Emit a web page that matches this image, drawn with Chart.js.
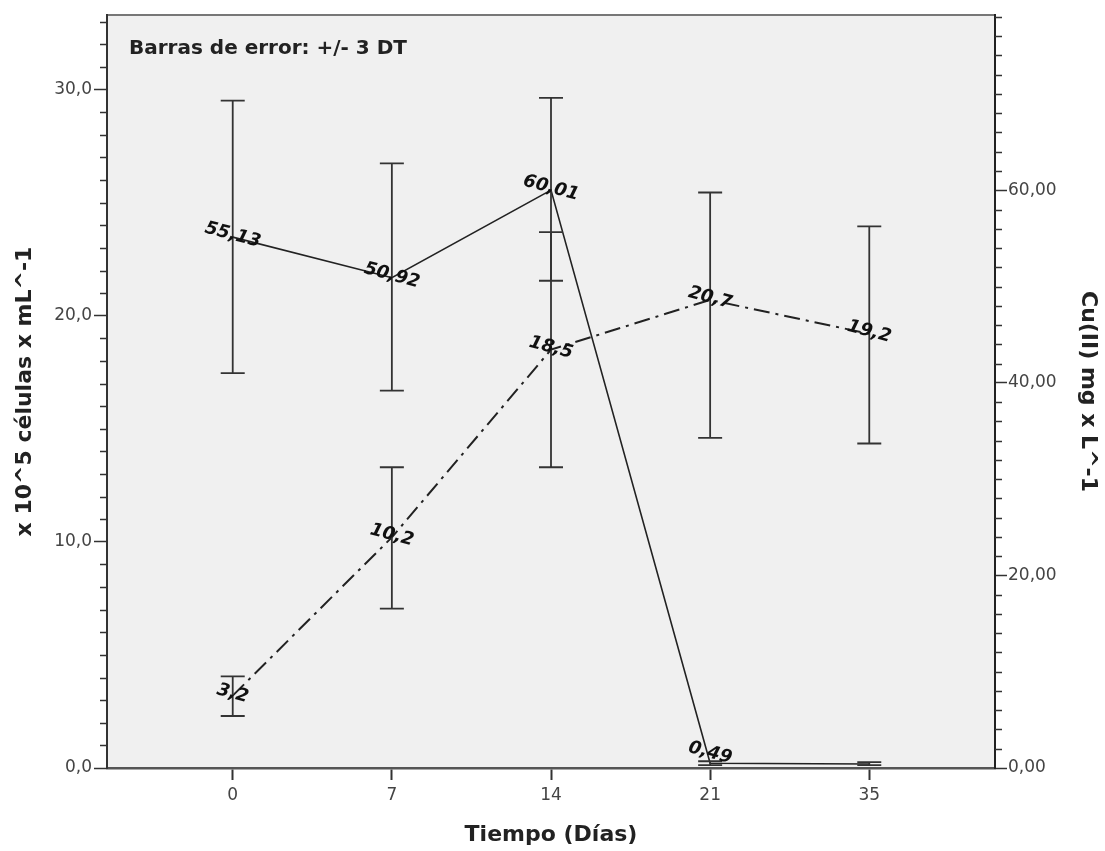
<!DOCTYPE html>
<html>
<head>
<meta charset="utf-8">
<script src="https://cdn.jsdelivr.net/npm/chart.js@4"></script>
<style>
  html, body { margin: 0; padding: 0; background: #fff; }
  canvas { display: block; }
</style>
</head>
<body>
<canvas id="chart" width="1105" height="851"></canvas>
<script>
// data
const days = ["0", "7", "14", "21", "35"];
const cellMean = [3.2, 10.2, 18.5, 20.7, 19.2];
const cellLow = [2.3, 7.05, 13.3, 14.6, 14.35];
const cellHigh = [4.05, 13.3, 23.7, 25.45, 23.95];
const cuMean = [55.13, 50.92, 60.01, 0.49, 0.42];
const cuLow = [41.0, 39.2, 50.6, 0.3, 0.3];
const cuHigh = [69.3, 62.8, 69.6, 0.7, 0.6];
const cuShowLabel = [true, true, true, true, false];
const leftTicks = [0, 10, 20, 30];
const rightTicks = [0, 20, 40, 60];
const leftMinorStep = 1;
const rightMinorStep = 2;

const FONT = "'DejaVu Sans', 'Liberation Sans', Arial, sans-serif";
const fmt = v => String(v).replace(".", ",");

// grey plot area + top frame line
const frame = {
  id: "frame",
  beforeDraw(chart) {
    const { ctx, chartArea: a } = chart;
    ctx.save();
    ctx.fillStyle = "#f0f0f0";
    ctx.fillRect(a.left, a.top, a.right - a.left, a.bottom - a.top);
    ctx.strokeStyle = "#777";
    ctx.lineWidth = 2;
    ctx.beginPath();
    ctx.moveTo(a.left, a.top);
    ctx.lineTo(a.right, a.top);
    ctx.stroke();
    ctx.restore();
  },
  afterDraw(chart) {
    const { ctx, chartArea: a, scales } = chart;
    ctx.save();
    ctx.strokeStyle = "#333";
    ctx.lineWidth = 1.5;
    // minor ticks
    for (let v = 0; v <= scales.y.max; v += leftMinorStep) {
      if (leftTicks.includes(v)) continue;
      const y = Math.round(scales.y.getPixelForValue(v)) + 0.5;
      ctx.beginPath(); ctx.moveTo(a.left, y); ctx.lineTo(a.left - 7, y); ctx.stroke();
    }
    for (let v = 0; v <= scales.y1.max; v += rightMinorStep) {
      if (rightTicks.includes(v)) continue;
      const y = Math.round(scales.y1.getPixelForValue(v)) + 0.5;
      ctx.beginPath(); ctx.moveTo(a.right, y); ctx.lineTo(a.right + 7, y); ctx.stroke();
    }
    // note text
    ctx.fillStyle = "#222";
    ctx.font = "bold 20px " + FONT;
    ctx.textBaseline = "middle";
    ctx.fillText("Barras de error: +/- 3 DT", a.left + 22, a.top + 34);
    ctx.restore();
  }
};

// error bars and rotated value labels
const errorBars = {
  id: "errorBars",
  afterDatasetsDraw(chart) {
    const { ctx, chartArea: a, scales } = chart;
    ctx.save();
    chart.data.datasets.forEach(ds => {
      const ys = scales[ds.yAxisID];
      ds.errLow.forEach((lo, i) => {
        const x = scales.x.getPixelForValue(i);
        const y1 = ys.getPixelForValue(lo);
        const y2 = ys.getPixelForValue(ds.errHigh[i]);
        ctx.strokeStyle = "#333";
        ctx.lineWidth = 1.8;
        ctx.beginPath();
        ctx.moveTo(x, y1); ctx.lineTo(x, y2);
        ctx.moveTo(x - 12, y1); ctx.lineTo(x + 12, y1);
        ctx.moveTo(x - 12, y2); ctx.lineTo(x + 12, y2);
        ctx.stroke();
      });
    });
    chart.data.datasets.forEach((ds, di) => {
      const meta = chart.getDatasetMeta(di);
      meta.data.forEach((pt, i) => {
        if (ds.showLabel && !ds.showLabel[i]) return;
        const y = Math.min(pt.y - 2, a.bottom - 15);
        ctx.save();
        ctx.translate(pt.x, y);
        ctx.rotate(15 * Math.PI / 180);
        ctx.fillStyle = "#111";
        ctx.font = "italic bold 18px " + FONT;
        ctx.textAlign = "center";
        ctx.textBaseline = "middle";
        ctx.fillText(fmt(ds.data[i].y), 0, 0);
        ctx.restore();
      });
    });
    ctx.restore();
  }
};

new Chart(document.getElementById("chart"), {
  type: "line",
  data: {
    datasets: [
      {
        label: "Cu(II)",
        yAxisID: "y1",
        data: cuMean.map((v, i) => ({ x: i, y: v })),
        errLow: cuLow,
        errHigh: cuHigh,
        showLabel: cuShowLabel,
        borderColor: "#222",
        borderWidth: 1.6,
        pointRadius: 0,
        tension: 0
      },
      {
        label: "Células",
        yAxisID: "y",
        data: cellMean.map((v, i) => ({ x: i, y: v })),
        errLow: cellLow,
        errHigh: cellHigh,
        borderColor: "#222",
        borderWidth: 2,
        borderDash: [16, 6, 3, 6],
        pointRadius: 0,
        tension: 0
      }
    ]
  },
  options: {
    responsive: false,
    animation: false,
    devicePixelRatio: 1,
    layout: { padding: { top: 15, left: 0, right: 0, bottom: 0 } },
    plugins: { legend: { display: false }, tooltip: { enabled: false } },
    scales: {
      x: {
        type: "linear",
        min: -0.79,
        max: 4.79,
        afterBuildTicks: s => { s.ticks = days.map((d, i) => ({ value: i })); },
        afterFit: s => { s.height = 83; },
        ticks: {
          callback: v => days[v],
          color: "#444",
          font: { family: FONT, size: 17 },
          padding: 5,
          maxRotation: 0,
          autoSkip: false
        },
        grid: { drawOnChartArea: false, tickLength: 12, tickColor: "#333", tickWidth: 2 },
        border: { display: true, color: "#555", width: 2.5 },
        title: {
          display: true,
          text: "Tiempo (Días)",
          color: "#222",
          font: { family: FONT, size: 22, weight: "bold" },
          padding: { top: 0, bottom: 3 }
        }
      },
      y: {
        type: "linear",
        position: "left",
        min: 0,
        max: 33.3,
        afterBuildTicks: s => { s.ticks = leftTicks.map(v => ({ value: v })); },
        afterFit: s => { s.width = 107; },
        ticks: {
          callback: v => v.toFixed(1).replace(".", ","),
          color: "#444",
          font: { family: FONT, size: 17 },
          padding: 2
        },
        grid: { drawOnChartArea: false, tickLength: 13, tickColor: "#333", tickWidth: 1.5 },
        border: { display: true, color: "#333", width: 2 },
        title: {
          display: true,
          text: "x 10^5 células x mL^-1",
          color: "#222",
          font: { family: FONT, size: 22, weight: "bold" },
          padding: { top: 12, bottom: 0 }
        }
      },
      y1: {
        type: "linear",
        position: "right",
        min: 0,
        max: 78.2,
        afterBuildTicks: s => { s.ticks = rightTicks.map(v => ({ value: v })); },
        afterFit: s => { s.width = 110; },
        ticks: {
          callback: v => v.toFixed(2).replace(".", ","),
          color: "#444",
          font: { family: FONT, size: 17 },
          padding: 1
        },
        grid: { drawOnChartArea: false, tickLength: 12, tickColor: "#333", tickWidth: 1.5 },
        border: { display: true, color: "#222", width: 2 },
        title: {
          display: true,
          text: "Cu(II) mg x L^-1",
          color: "#222",
          font: { family: FONT, size: 22, weight: "bold" },
          padding: { top: 4, bottom: 0 }
        }
      }
    }
  },
  plugins: [frame, errorBars]
});
</script>
</body>
</html>
